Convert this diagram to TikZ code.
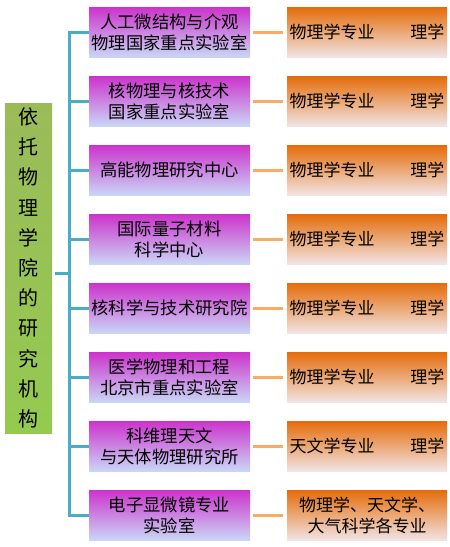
\documentclass[tikz,border=0pt]{standalone}
\usepackage{fontspec}
\setmainfont{Noto Sans CJK SC}
\usetikzlibrary{positioning}

\definecolor{labtop}{RGB}{204,51,204}
\definecolor{labbot}{RGB}{202,214,246}
\definecolor{majtop}{RGB}{228,108,10}
\definecolor{majbot}{RGB}{242,228,228}
\definecolor{roottop}{RGB}{155,187,89}
\definecolor{rootbot}{RGB}{148,202,80}
\definecolor{spinecol}{RGB}{75,172,198}
\definecolor{linkcol}{RGB}{250,172,100}

\begin{document}
\begin{tikzpicture}[x=1pt, y=1pt, on grid, node distance=69pt,
    lab/.style={minimum width=161pt, minimum height=50pt, inner sep=0pt,
        align=center, top color=labtop, bottom color=labbot,
        font=\fontsize{17.3}{21}\selectfont},
    maj/.style={minimum width=160pt, minimum height=50pt, inner sep=0pt,
        text width=155pt, top color=majtop, bottom color=majbot,
        font=\fontsize{17}{21}\selectfont},
    rootbox/.style={minimum width=47pt, minimum height=330pt, inner sep=0pt,
        align=center, top color=roottop, bottom color=rootbot,
        font=\fontsize{20}{30.2}\selectfont},
    spine/.style={draw=spinecol, line width=3pt},
    link/.style={draw=linkcol, line width=3pt, shorten <=3pt, shorten >=4pt}]
        \useasboundingbox (0,0) rectangle (450,-547);

        % research institutes
        \node[lab] (r1) at (169.5,-32) {人工微结构与介观\\物理国家重点实验室};
        \node[lab, below=of r1] (r2) {核物理与核技术\\国家重点实验室};
        \node[lab, below=of r2] (r3) {高能物理研究中心};
        \node[lab, below=of r3] (r4) {国际量子材料\\科学中心};
        \node[lab, below=of r4] (r5) {核科学与技术研究院};
        \node[lab, below=of r5] (r6) {医学物理和工程\\北京市重点实验室};
        \node[lab, below=of r6] (r7) {科维理天文\\与天体物理研究所};
        \node[lab, below=of r7] (r8) {电子显微镜专业\\实验室};

        % majors
        \node[maj, right=197.5pt of r1] (m1) {物理学专业\hfill 理学};
        \node[maj, right=197.5pt of r2] (m2) {物理学专业\hfill 理学};
        \node[maj, right=197.5pt of r3] (m3) {物理学专业\hfill 理学};
        \node[maj, right=197.5pt of r4] (m4) {物理学专业\hfill 理学};
        \node[maj, right=197.5pt of r5] (m5) {物理学专业\hfill 理学};
        \node[maj, right=197.5pt of r6] (m6) {物理学专业\hfill 理学};
        \node[maj, right=197.5pt of r7] (m7) {天文学专业\hfill 理学};
        \node[maj, right=197.5pt of r8, align=center] (m8) {物理学、天文学、\\大气科学各专业};

        % school
        \node[rootbox] (root) at (28.5,-268) {依\\托\\物\\理\\学\\院\\的\\研\\究\\机\\构};
        \coordinate (trunk) at (70,-273.5);

        \draw[spine] (r1.west) -- ++(-19,0) |- (r2.west) -- ++(-19,0) |- (r3.west)
            -- ++(-19,0) |- (r4.west) -- ++(-19,0) |- (r5.west) -- ++(-19,0) |- (r6.west)
            -- ++(-19,0) |- (r7.west) -- ++(-19,0) |- (r8.west);
        \draw[spine, shorten <=3pt] (root.east |- trunk) -- (trunk);

        \path[link]
        (r1) edge (m1)
        (r2) edge (m2)
        (r3) edge (m3)
        (r4) edge (m4)
        (r5) edge (m5)
        (r6) edge (m6)
        (r7) edge (m7)
        (r8) edge (m8);
    \end{tikzpicture}
\end{document}
